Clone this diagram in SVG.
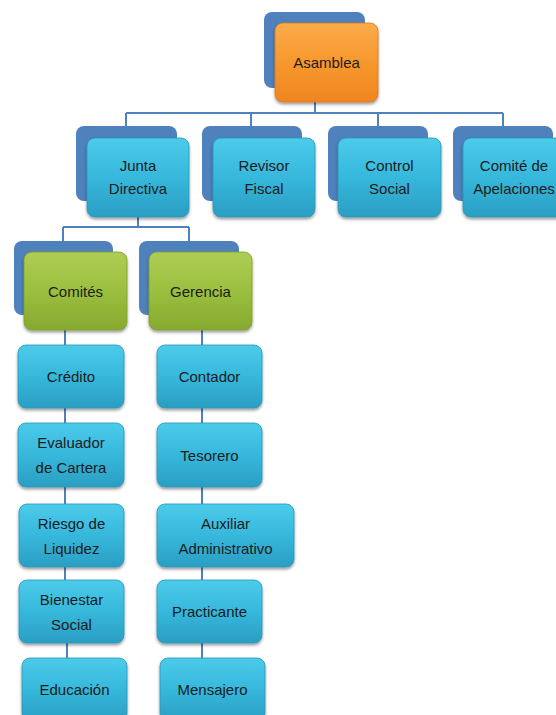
<svg xmlns="http://www.w3.org/2000/svg" width="556" height="715" viewBox="0 0 556 715">
<defs>
<linearGradient id="gc" x1="0" y1="0" x2="0" y2="1"><stop offset="0" stop-color="#4ccbea"/><stop offset="0.5" stop-color="#36b8dc"/><stop offset="1" stop-color="#2a9ec2"/></linearGradient>
<linearGradient id="gg" x1="0" y1="0" x2="0" y2="1"><stop offset="0" stop-color="#aecd55"/><stop offset="0.5" stop-color="#9bbf3f"/><stop offset="1" stop-color="#86a92f"/></linearGradient>
<linearGradient id="go" x1="0" y1="0" x2="0" y2="1"><stop offset="0" stop-color="#fcab4a"/><stop offset="0.5" stop-color="#f7982e"/><stop offset="1" stop-color="#ee8520"/></linearGradient>
<filter id="sh" x="-10%" y="-10%" width="125%" height="130%"><feDropShadow dx="0" dy="2" stdDeviation="1.5" flood-color="#000" flood-opacity="0.4"/></filter>
</defs>
<style>
.bk{fill:#4f81bd}
.c{fill:url(#gc);stroke:#2a97b8;stroke-width:0.8;filter:url(#sh)}
.g{fill:url(#gg);stroke:#7e9e2c;stroke-width:0.8;filter:url(#sh)}
.o{fill:url(#go);stroke:#d97a18;stroke-width:0.8;filter:url(#sh)}
text{font-family:"Liberation Sans",Arial,sans-serif;font-size:15px;fill:#1c1c1c;text-anchor:middle}
.ln{fill:none;stroke:#4f81bd;stroke-width:2}
</style>
<rect width="556" height="715" fill="#fff"/>
<g id="connectors">
<path class="ln" d="M315 102V113M126 113H503M126 113V126M251 113V126M378 113V126M503 113V126"/>
<path class="ln" d="M138 217V227M63 227H189M63 227V241M189 227V241"/>
<path class="ln" d="M65 330V345M65 408V423M65 487V504M65 567V580M67 643V658"/>
<path class="ln" d="M202 330V345M202 408V423M202 487V504M202 567V580M202 643V658"/>
</g>
<g id="asamblea"><rect class="bk" x="264" y="12" width="101" height="76" rx="8"/><rect class="o" x="275" y="23" width="103" height="79" rx="8"/><text x="326.5" y="68">Asamblea</text></g>
<g id="junta"><rect class="bk" x="76" y="126" width="101" height="75" rx="8"/><rect class="c" x="87" y="138" width="102" height="79" rx="8"/><text x="138" y="171">Junta</text><text x="138" y="194">Directiva</text></g>
<g id="revisor"><rect class="bk" x="202" y="126" width="100" height="75" rx="8"/><rect class="c" x="213" y="138" width="102" height="79" rx="8"/><text x="264" y="171">Revisor</text><text x="264" y="194">Fiscal</text></g>
<g id="control"><rect class="bk" x="328" y="126" width="100" height="75" rx="8"/><rect class="c" x="338" y="138" width="103" height="79" rx="8"/><text x="389.5" y="171">Control</text><text x="389.5" y="194">Social</text></g>
<g id="apelaciones"><rect class="bk" x="453" y="126" width="100" height="75" rx="8"/><rect class="c" x="463" y="138" width="103" height="79" rx="8"/><text x="514" y="171">Comité de</text><text x="514" y="194">Apelaciones</text></g>
<g id="comites"><rect class="bk" x="14" y="241" width="99" height="74" rx="8"/><rect class="g" x="24" y="252" width="103" height="78" rx="8"/><text x="75.5" y="297">Comités</text></g>
<g id="gerencia"><rect class="bk" x="139" y="241" width="100" height="74" rx="8"/><rect class="g" x="149" y="252" width="103" height="78" rx="8"/><text x="200.5" y="297">Gerencia</text></g>
<g id="credito"><rect class="c" x="18" y="345" width="106" height="63" rx="8"/><text x="71" y="382">Crédito</text></g>
<g id="evaluador"><rect class="c" x="18" y="423" width="106" height="64" rx="8"/><text x="71" y="448">Evaluador</text><text x="71" y="473">de Cartera</text></g>
<g id="riesgo"><rect class="c" x="19" y="504" width="105" height="63" rx="8"/><text x="71.5" y="529">Riesgo de</text><text x="71.5" y="554">Liquidez</text></g>
<g id="bienestar"><rect class="c" x="19" y="580" width="105" height="63" rx="8"/><text x="71.5" y="605">Bienestar</text><text x="71.5" y="630">Social</text></g>
<g id="educacion"><rect class="c" x="22" y="658" width="105" height="63" rx="8"/><text x="74.5" y="695">Educación</text></g>
<g id="contador"><rect class="c" x="157" y="345" width="105" height="63" rx="8"/><text x="209.5" y="382">Contador</text></g>
<g id="tesorero"><rect class="c" x="157" y="423" width="105" height="64" rx="8"/><text x="209.5" y="461">Tesorero</text></g>
<g id="auxiliar"><rect class="c" x="157" y="504" width="137" height="63" rx="8"/><text x="225.5" y="529">Auxiliar</text><text x="225.5" y="554">Administrativo</text></g>
<g id="practicante"><rect class="c" x="157" y="580" width="105" height="63" rx="8"/><text x="209.5" y="617">Practicante</text></g>
<g id="mensajero"><rect class="c" x="160" y="658" width="105" height="63" rx="8"/><text x="212.5" y="695">Mensajero</text></g>
</svg>
